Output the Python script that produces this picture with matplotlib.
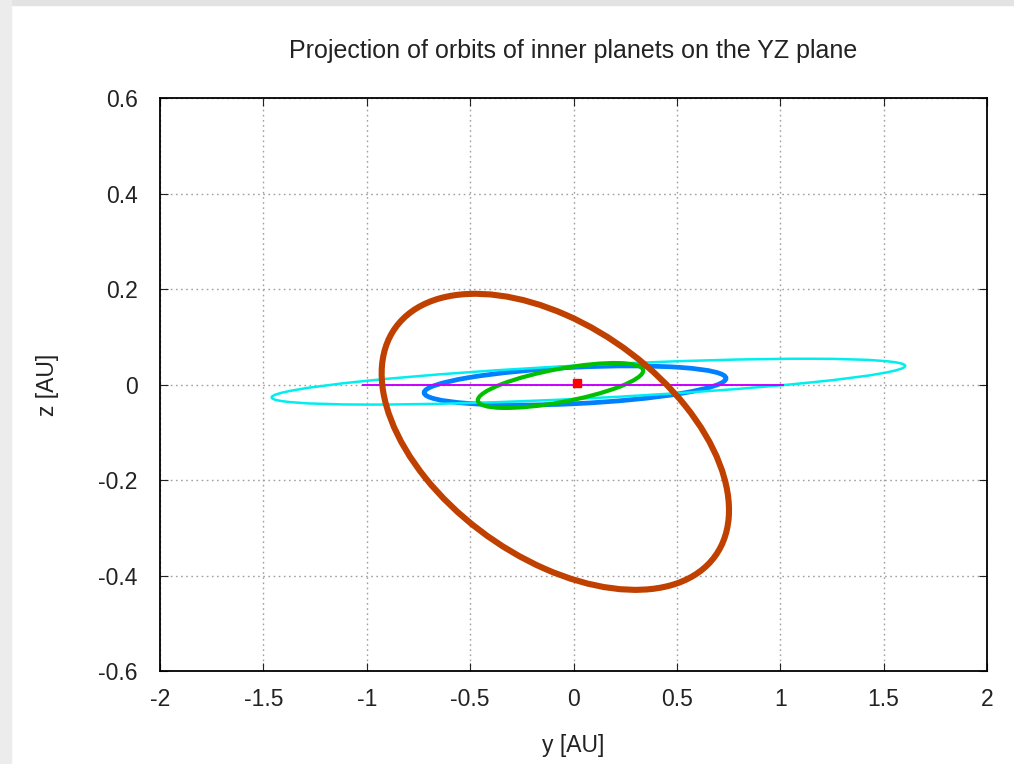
import numpy as np
import matplotlib as mpl
mpl.use("Agg")
import matplotlib.pyplot as plt
from matplotlib.patches import Ellipse, Rectangle

# orbits: centre (y, z), half extent in y and z,
# and the z offset of the rightmost point from the centre (gives the tilt)
names = ["Mercury", "Venus", "Mars", "comet"]
center_y = [-0.063, 0.0075, 0.072, -0.088]
center_z = [-0.002, -0.002, 0.006, -0.120]
half_y = [0.400, 0.730, 1.532, 0.840]
half_z = [0.047, 0.041, 0.048, 0.310]
tilt_z = [0.031, 0.015, 0.033, -0.143]
colors = ["#00c000", "#0080ff", "#00eeee", "#c04000"]
widths = [3.0, 3.4, 1.8, 4.4]
layers = [3, 2, 2, 5]

earth_y = [-1.017, 1.013]
earth_z = [0.0, 0.0]
sun_y = [0.015]
sun_z = [0.003]

plt.rcParams["font.family"] = ["Liberation Sans", "DejaVu Sans"]
plt.rcParams["font.size"] = 16.5


def ellipse_params(hy, hz, tz):
  # covariance-like matrix of the ellipse in data space
  q = tz * hy
  m = np.array([[hy * hy, q], [q, hz * hz]])
  vals, vecs = np.linalg.eigh(m)
  major = vecs[:, 1]
  angle = np.degrees(np.arctan2(major[1], major[0]))
  return 2 * np.sqrt(vals[1]), 2 * np.sqrt(vals[0]), angle


fig = plt.figure(figsize=(10.14, 7.64), dpi=100)
fig.patches.append(Rectangle((0, 0.993), 1, 0.007, transform=fig.transFigure,
                             color="#e3e3e3", zorder=-10))
fig.patches.append(Rectangle((0, 0), 0.0108, 1, transform=fig.transFigure,
                             color="#ececec", zorder=-10))

ax = fig.add_axes([0.1578, 0.1217, 0.8156, 0.75])

ax.plot(earth_y, earth_z, color="#c800ff", lw=1.4, zorder=4)
for i in range(len(names)):
  w, h, a = ellipse_params(half_y[i], half_z[i], tilt_z[i])
  ax.add_patch(Ellipse((center_y[i], center_z[i]), w, h, angle=a,
                       fill=False, edgecolor=colors[i], lw=widths[i],
                       zorder=layers[i]))
ax.plot(sun_y, sun_z, "s", color="#ff0000", ms=5.6, zorder=6)

ax.set_xlim(-2, 2)
ax.set_ylim(-0.6, 0.6)
ax.set_xticks(np.arange(-2, 2.01, 0.5))
ax.set_yticks(np.arange(-0.6, 0.61, 0.2))
ax.set_xticklabels(["-2", "-1.5", "-1", "-0.5", "0", "0.5", "1", "1.5", "2"])
ax.set_yticklabels(["-0.6", "-0.4", "-0.2", "0", "0.2", "0.4", "0.6"])
ax.tick_params(direction="in", top=True, right=True, length=6, width=0.8,
               colors="#222222")
ax.tick_params(axis="x", pad=12)
ax.tick_params(axis="y", pad=16)
ax.grid(True, color="#a0a0a0", linestyle=(0, (1.2, 2.5)), lw=1.0)
for s in ax.spines.values():
  s.set_linewidth(1.3)

ax.set_title("Projection of orbits of inner planets on the YZ plane",
             fontsize=18, pad=29, color="#222222")
ax.set_xlabel("y [AU]", labelpad=17, color="#222222")
ax.set_ylabel("z [AU]", labelpad=28, color="#222222")

fig.savefig("out.png", dpi=100)
